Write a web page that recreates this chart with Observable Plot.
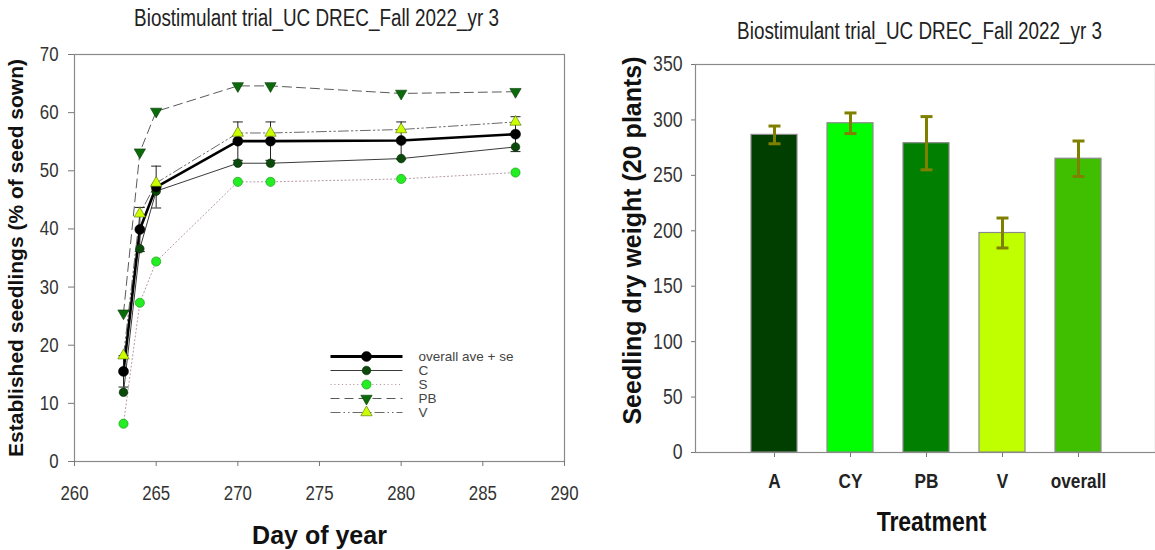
<!DOCTYPE html>
<html>
<head>
<meta charset="utf-8">
<script src="https://cdn.jsdelivr.net/npm/d3@7"></script>
<script src="https://cdn.jsdelivr.net/npm/@observablehq/plot@0.6"></script>
<style>
  html, body { margin: 0; padding: 0; background: #fff; }
  #wrap { position: relative; width: 1155px; height: 550px; overflow: hidden; background: #fff; }
  #wrap svg { position: absolute; overflow: visible; }
</style>
</head>
<body>
<div id="wrap"></div>
<script>
// ---------- data: left chart (establishment over time) ----------
const days = [263, 264, 265, 270, 272, 280, 287];
const overallMean = [15.5, 39.9, 47.2, 55.1, 55.1, 55.2, 56.3];
const overallSe = [2.7, 3.8, 3.6, 3.3, 3.3, 3.2, 3.0];
const cValues = [11.9, 36.6, 46.5, 51.3, 51.3, 52.1, 54.1];
const sValues = [6.5, 27.3, 34.4, 48.1, 48.1, 48.6, 49.7];
const pbValues = [25.5, 53.2, 60.2, 64.6, 64.6, 63.3, 63.6];
const vValues = [18.2, 42.6, 47.9, 56.5, 56.5, 57.1, 58.4];
const seriesNames = ["overall ave + se", "C", "S", "PB", "V"];
const dayTicks = [260, 265, 270, 275, 280, 285, 290];
const pctTicks = [0, 10, 20, 30, 40, 50, 60, 70];

// ---------- data: right chart (dry weight) ----------
const treatments = ["A", "CY", "PB", "V", "overall"];
const dryWeight = [286.5, 297, 279, 198, 265];
const dryWeightSe = [8, 9.3, 24, 13.5, 16];
const weightTicks = [0, 50, 100, 150, 200, 250, 300, 350];

const chartTitle = "Biostimulant trial_UC DREC_Fall 2022_yr 3";

// ---------- styles ----------
// "Narrow" texts are drawn in Liberation Sans and compressed horizontally afterwards
const NARROW = "'Liberation Sans Narrow', 'Liberation Sans', Arial, sans-serif";
const SANS = "'Liberation Sans', Arial, sans-serif";
const NARROW_FACTOR = 0.82;
const seriesStyle = {
  "overall ave + se": {line: {stroke: "#000", strokeWidth: 2.6}, dot: {symbol: "circle", r: 5, fill: "#000", stroke: "#000", strokeWidth: 0.5, rotate: 0}},
  "C": {line: {stroke: "#3a3a3a", strokeWidth: 1}, dot: {symbol: "circle", r: 4.3, fill: "#0b4a0b", stroke: "#042804", strokeWidth: 0.6, rotate: 0}},
  "S": {line: {stroke: "#b89aa8", strokeWidth: 1, strokeDasharray: "1.2,2.6"}, dot: {symbol: "circle", r: 4.6, fill: "#22ee22", stroke: "#139013", strokeWidth: 0.6, rotate: 0}},
  "PB": {line: {stroke: "#5a5a5a", strokeWidth: 1, strokeDasharray: "9,5"}, dot: {symbol: "triangle", r: 4.2, fill: "#0b6b0b", stroke: "#053805", strokeWidth: 0.6, rotate: 180}},
  "V": {line: {stroke: "#6a6a6a", strokeWidth: 1, strokeDasharray: "10,3,1.5,3,1.5,3"}, dot: {symbol: "triangle", r: 4.2, fill: "#ccff00", stroke: "#4d6b00", strokeWidth: 0.6, rotate: 0}}
};
const seriesValues = {"overall ave + se": overallMean, "C": cValues, "S": sValues, "PB": pbValues, "V": vValues};
const barColors = ["#003f00", "#00ff00", "#007f00", "#bfff00", "#40bf00"];

// horizontal cap symbol for error bars
const capSymbol = {draw(ctx, size) { const r = Math.sqrt(size / Math.PI); ctx.moveTo(-r, 0); ctx.lineTo(r, 0); }};

const wrap = document.getElementById("wrap");
function place(svg, left, top) {
  svg.style.left = left + "px"; svg.style.top = top + "px"; wrap.appendChild(svg);
  svg.querySelectorAll("text").forEach(t => {
    if (getComputedStyle(t).fontFamily.includes("Narrow")) {
      const len = t.getComputedTextLength();
      if (len > 0) {
        t.setAttribute("textLength", (len * NARROW_FACTOR).toFixed(2));
        t.setAttribute("lengthAdjust", "spacingAndGlyphs");
      }
    }
  });
}

// ---------- left chart ----------
const idx = d3.range(days.length);
const lineOrder = ["C", "S", "PB", "V", "overall ave + se"];
const leftMarks = [
  Plot.frame({stroke: "#8a8a8a", strokeWidth: 1.2}),
  Plot.axisX({ticks: dayTicks, tickSize: 5, tickPadding: 19, fontSize: 20.5, fontFamily: NARROW, stroke: "#777", fill: "#333", tickFormat: d => d}),
  Plot.axisY({ticks: pctTicks, tickSize: 6, tickPadding: 10, fontSize: 20.5, fontFamily: NARROW, stroke: "#777", fill: "#333", tickFormat: d => d}),
  ...lineOrder.map(name => Plot.line(idx, {x: i => days[i], y: i => seriesValues[name][i], curve: "linear", ...seriesStyle[name].line})),
  Plot.ruleX(idx, {x: i => days[i], y1: i => overallMean[i] - overallSe[i], y2: i => overallMean[i] + overallSe[i], stroke: "#222", strokeWidth: 1}),
  Plot.dot(idx, {x: i => days[i], y: i => overallMean[i] + overallSe[i], symbol: capSymbol, r: 5, stroke: "#222", strokeWidth: 1, fill: "none"}),
  Plot.dot(idx, {x: i => days[i], y: i => overallMean[i] - overallSe[i], symbol: capSymbol, r: 5, stroke: "#222", strokeWidth: 1, fill: "none"}),
  ...["C", "S", "PB", "overall ave + se", "V"].map(name => Plot.dot(idx, {x: i => days[i], y: i => seriesValues[name][i], ...seriesStyle[name].dot})),
  Plot.text([chartTitle], {frameAnchor: "top", dy: -35.5, dx: -3, fontSize: 23, fontFamily: NARROW, fill: "#222", lineAnchor: "middle", textAnchor: "middle"}),
  Plot.text(["Day of year"], {frameAnchor: "bottom", dy: 74, fontSize: 25, fontWeight: "bold", fontFamily: SANS, fill: "#111", lineAnchor: "middle", textAnchor: "middle"}),
  Plot.text(["Established seedlings (% of seed sown)"], {frameAnchor: "left", dx: -58, rotate: -90, fontSize: 21, fontWeight: "bold", fontFamily: SANS, fill: "#111", lineAnchor: "middle", textAnchor: "middle"})
];
const left = Plot.plot({
  width: 580, height: 550,
  marginLeft: 74, marginRight: 16, marginTop: 54, marginBottom: 89,
  x: {domain: [260, 290]},
  y: {domain: [0, 70]},
  style: {background: "transparent", color: "#333", overflow: "visible"},
  marks: leftMarks
});
place(left, 0, 0);

// ---------- legend (left chart) ----------
const legend = Plot.plot({
  width: 230, height: 95,
  margin: 0,
  x: {domain: [0, 1], range: [10, 82]},
  y: {type: "point", domain: seriesNames, range: [10.3, 81.3]},
  axis: null,
  style: {background: "transparent", overflow: "visible"},
  marks: [
    ...seriesNames.map(name => Plot.link([name], {x1: 0, x2: 1, y1: d => d, y2: d => d, ...seriesStyle[name].line, strokeWidth: name === "overall ave + se" ? 3 : 1})),
    ...seriesNames.map(name => Plot.dot([name], {x: 0.5, y: d => d, ...seriesStyle[name].dot})),
    Plot.text(seriesNames, {x: 1, y: d => d, dx: 16, textAnchor: "start", fontSize: 13.5, fontFamily: SANS, fill: "#444"})
  ]
});
place(legend, 320, 338);

// ---------- right chart ----------
const tIdx = d3.range(treatments.length);
const right = Plot.plot({
  width: 555, height: 550,
  marginLeft: 95, marginRight: 0, marginTop: 64, marginBottom: 98,
  x: {type: "band", domain: treatments, range: [134.4, 517.3], paddingInner: 0.4, paddingOuter: 0.2},
  y: {domain: [0, 350]},
  color: {type: "identity"},
  style: {background: "transparent", color: "#333", overflow: "visible"},
  marks: [
    Plot.frame({stroke: "#8a8a8a", strokeWidth: 1.2}),
    Plot.axisY({ticks: weightTicks, tickSize: 4, tickPadding: 9, fontSize: 21.5, fontFamily: NARROW, stroke: "#777", fill: "#333", tickFormat: d => d}),
    Plot.axisX({tickSize: 5, tickPadding: 16, fontSize: 21, fontWeight: "bold", fontFamily: NARROW, stroke: "#777", fill: "#222"}),
    Plot.barY(tIdx, {x: i => treatments[i], y: i => dryWeight[i], fill: i => barColors[i], stroke: "#8a8a8a", strokeWidth: 1.2}),
    Plot.ruleX(tIdx, {x: i => treatments[i], y1: i => dryWeight[i] - dryWeightSe[i], y2: i => dryWeight[i] + dryWeightSe[i], stroke: "#808000", strokeWidth: 3}),
    Plot.dot(tIdx, {x: i => treatments[i], y: i => dryWeight[i] + dryWeightSe[i], symbol: capSymbol, r: 6, stroke: "#808000", strokeWidth: 3, fill: "none"}),
    Plot.dot(tIdx, {x: i => treatments[i], y: i => dryWeight[i] - dryWeightSe[i], symbol: capSymbol, r: 6, stroke: "#808000", strokeWidth: 3, fill: "none"}),
    Plot.text([chartTitle], {frameAnchor: "top", dy: -32.5, dx: -6, fontSize: 23, fontFamily: NARROW, fill: "#222", lineAnchor: "middle", textAnchor: "middle"}),
    Plot.text(["Treatment"], {frameAnchor: "bottom", dy: 70, dx: 6, fontSize: 28, fontWeight: "bold", fontFamily: NARROW, fill: "#111", lineAnchor: "middle", textAnchor: "middle"}),
    Plot.text(["Seedling dry weight (20 plants)"], {frameAnchor: "left", dx: -62.5, dy: -18, rotate: -90, fontSize: 25, fontWeight: "bold", fontFamily: SANS, fill: "#111", lineAnchor: "middle", textAnchor: "middle"})
  ]
});
place(right, 600, 0);
</script>
</body>
</html>
